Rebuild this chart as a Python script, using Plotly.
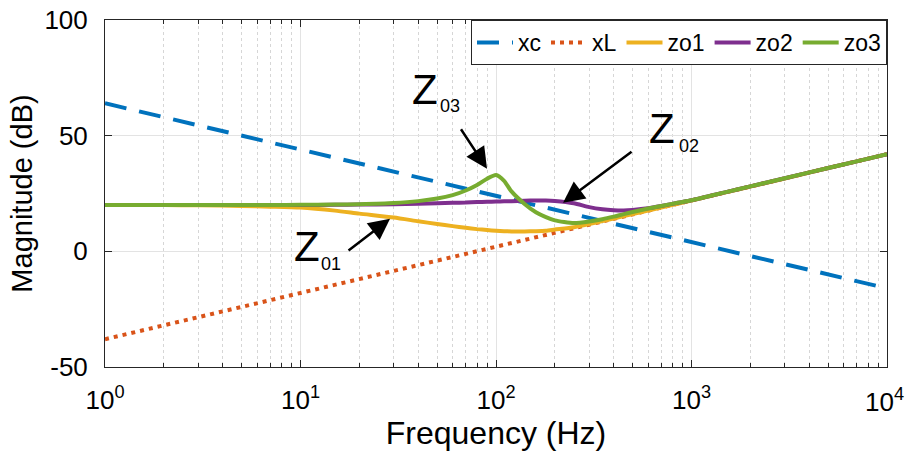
import plotly.graph_objects as go

# ---- data ----
line_freq = [1, 10, 100, 1000, 10000]
xc_db = [64, 44, 24, 4, -16]
xl_db = [-38, -18, 2, 22, 42]

zo_freq = [1, 2, 3, 5, 7, 10, 15, 20, 30, 40, 50, 60, 70, 80, 90, 100, 110, 120,
           140, 160, 180, 200, 250, 300, 350, 400, 450, 500, 600, 700, 850, 1000,
           1500, 2000, 3000, 5000, 7000, 10000]
zo1_db = [20.0, 20.0, 19.9, 19.6, 19.3, 18.9, 17.6, 16.3, 14.6, 13.0, 11.8, 10.9, 10.2, 9.6, 9.2, 8.9, 8.7, 8.6,
          8.6, 8.7, 8.9, 9.4, 10.4, 11.8, 13.1, 14.2, 15.2, 16.1, 17.6, 18.9, 20.6, 22.0,
          25.5, 28.0, 31.5, 36.0, 38.9, 42.0]
zo2_db = [20.0, 20.0, 20.0, 20.0, 20.0, 20.0, 20.1, 20.2, 20.4, 20.6, 20.8, 21.0, 21.1, 21.3, 21.4, 21.5, 21.6, 21.7,
          21.9, 22.0, 22.0, 21.8, 20.8, 19.1, 18.2, 17.8, 17.7, 17.9, 18.6, 19.6, 21.0, 22.1,
          25.6, 28.1, 31.6, 36.0, 38.9, 42.0]
zo3_db = [20.0, 20.0, 20.0, 20.0, 20.0, 20.1, 20.2, 20.4, 20.9, 21.7, 22.8, 24.3, 26.3, 28.7, 31.4, 33.0, 30.5, 25.9,
          20.5, 16.9, 14.8, 13.4, 12.2, 12.9, 13.9, 15.0, 16.1, 17.0, 18.5, 19.6, 21.0, 22.1,
          25.6, 28.1, 31.6, 36.0, 38.9, 42.0]

x_tick_vals = [1, 10, 100, 1000]
x_tick_text = ["10<sup>0</sup>", "10<sup>1</sup>", "10<sup>2</sup>", "10<sup>3</sup>"]
x_last_tick_text = "10<sup>4</sup>"
y_tick_vals = [-50, 0, 50, 100]
y_tick_text = ["-50", "0", "50", "100"]

# annotation labels: (label, subscript, arrow head log10f, arrow head dB, ax, ay, Z pos, sub pos)
labels = [
    ("Z", "01", 1.458, 14.1, -43, 33, (1.031, 2.2), (1.158, -5.3)),
    ("Z", "03", 1.954, 35.7, -27, -41, (1.637, 70.0), (1.767, 62.8)),
    ("Z", "02", 2.343, 21.0, 70, -52, (2.847, 53.2), (2.985, 45.4)),
]

FONT = "Arial, Liberation Sans, sans-serif"
AX = "#262626"

fig = go.Figure()
fig.add_trace(go.Scatter(x=line_freq, y=xc_db, name="xc", mode="lines",
                         line=dict(color="#0072BD", width=4, dash="22px,13px")))
fig.add_trace(go.Scatter(x=line_freq, y=xl_db, name="xL", mode="lines",
                         line=dict(color="#D95319", width=4, dash="4px,5px")))
fig.add_trace(go.Scatter(x=zo_freq, y=zo1_db, name="zo1", mode="lines",
                         line=dict(color="#EDB120", width=4, shape="spline", smoothing=0.6)))
fig.add_trace(go.Scatter(x=zo_freq, y=zo2_db, name="zo2", mode="lines",
                         line=dict(color="#7E2F8E", width=4, shape="spline", smoothing=0.6)))
fig.add_trace(go.Scatter(x=zo_freq, y=zo3_db, name="zo3", mode="lines",
                         line=dict(color="#77AC30", width=4, shape="spline", smoothing=0.6)))

minor_vals = [m * 10 ** d for d in range(4) for m in range(2, 10)]

for zl, sub, hx, hy, ax, ay, zpos, spos in labels:
    fig.add_annotation(x=hx, y=hy, xref="x", yref="y", text="", showarrow=True,
                       ax=ax, ay=ay, arrowhead=2, arrowsize=1.7, arrowwidth=2.5,
                       arrowcolor="black")
    fig.add_annotation(x=zpos[0], y=zpos[1], xref="x", yref="y", text=zl,
                       showarrow=False, font=dict(family=FONT, size=42, color="black"))
    fig.add_annotation(x=spos[0], y=spos[1], xref="x", yref="y", text=sub,
                       showarrow=False, font=dict(family=FONT, size=18, color="black"))

# last decade tick label, nudged left so it stays inside the figure (as in the reference)
fig.add_annotation(x=1.0, y=0, xref="paper", yref="paper", text=x_last_tick_text,
                   showarrow=False, xanchor="right", yanchor="top", xshift=19, yshift=-15,
                   font=dict(family=FONT, size=26, color="black"))

fig.update_layout(
    width=913, height=453,
    margin=dict(l=105, r=26, t=20, b=86, autoexpand=False),
    paper_bgcolor="white", plot_bgcolor="white",
    font=dict(family=FONT, size=26, color="black"),
    showlegend=True,
    legend=dict(orientation="h", x=1, xanchor="right", y=1, yanchor="top",
                bgcolor="white", bordercolor=AX, borderwidth=1,
                font=dict(family=FONT, size=23, color="black"),
                itemwidth=36, tracegroupgap=0),
)
fig.update_xaxes(
    type="log", range=[0, 4], automargin=False,
    tickvals=x_tick_vals, ticktext=x_tick_text,
    ticks="inside", ticklen=7, tickwidth=1, tickcolor=AX,
    showline=True, linecolor=AX, linewidth=1, mirror="ticks",
    showgrid=True, gridcolor="#e3e3e3", gridwidth=1,
    minor=dict(tickvals=minor_vals, ticks="inside", ticklen=4, tickcolor=AX,
               showgrid=True, gridcolor="#d6d6d6", griddash="dot", gridwidth=1),
    zeroline=False,
    ticklabelstandoff=10,
    title=dict(text="Frequency (Hz)", font=dict(family=FONT, size=32), standoff=4),
    tickfont=dict(family=FONT, size=26),
)
fig.update_yaxes(
    range=[-50, 100], automargin=False,
    tickvals=y_tick_vals, ticktext=y_tick_text,
    ticks="inside", ticklen=7, tickwidth=1, tickcolor=AX,
    showline=True, linecolor=AX, linewidth=1, mirror="ticks",
    showgrid=True, gridcolor="#e3e3e3", gridwidth=1,
    zeroline=False,
    ticklabelstandoff=11,
    title=dict(text="Magnitude (dB)", font=dict(family=FONT, size=29), standoff=3),
    tickfont=dict(family=FONT, size=26),
)

html = fig.to_html(include_plotlyjs=True, full_html=True,
                   config={"displayModeBar": False})
html = html.replace("<head>", "<head><style>html,body{margin:0;padding:0;}</style>", 1)
with open("out.html", "w", encoding="utf-8") as fh:
    fh.write(html)
